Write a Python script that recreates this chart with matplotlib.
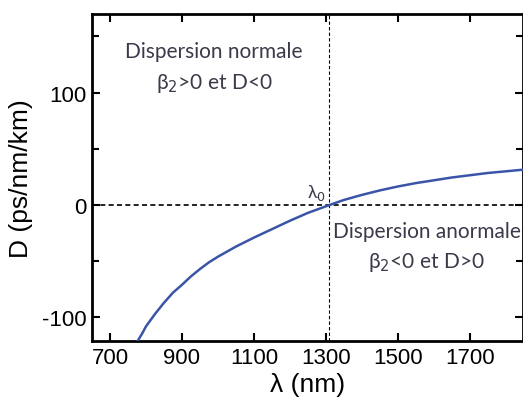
import matplotlib
matplotlib.use("Agg")
import matplotlib.pyplot as plt
from matplotlib.ticker import MultipleLocator

# data
wavelength = [775, 790, 800, 825, 850, 875, 900, 925, 950, 975, 1000, 1050, 1100, 1150, 1200,
              1250, 1310, 1350, 1400, 1450, 1500, 1550, 1600, 1650, 1700, 1750, 1800, 1850]
dispersion = [-122, -114, -108, -97, -87, -78, -71, -63.5, -57, -51, -46, -37, -29, -21.5, -14,
              -7, 0, 4.5, 9, 13, 16.5, 19.5, 22, 24.5, 26.5, 28.5, 30, 31.5]
lambda0 = 1310
xticks = [700, 900, 1100, 1300, 1500, 1700]
yticks = [-100, 0, 100]

plt.rcParams['font.family'] = ['Liberation Sans', 'DejaVu Sans']
plt.rcParams['axes.unicode_minus'] = False
fig = plt.figure(figsize=(5.23, 4.02), dpi=100)
ax = fig.add_axes([92/523, 60/402, 431/523, 327/402])

ax.plot(wavelength, dispersion, color='#3a55a8', lw=1.8, zorder=3)
ax.axhline(0, color='black', ls=(0, (3, 2)), lw=1.2)
ax.axvline(lambda0, color='black', ls=(0, (3, 2)), lw=0.8)

ax.set_xlim(650, 1848)
ax.set_ylim(-121, 170)
ax.set_xticks(xticks)
ax.set_yticks(yticks)
ax.yaxis.set_minor_locator(MultipleLocator(50))
ax.tick_params(which='both', direction='in', top=True, right=True, labelsize=16, width=1.5, length=6, pad=4)
ax.tick_params(which='minor', length=5)
for s in ax.spines.values():
    s.set_linewidth(2)

ax.set_xlabel('λ (nm)', fontsize=19, labelpad=3)
ax.set_ylabel('D (ps/nm/km)', fontsize=19, labelpad=6)

tc = '#3a3a4a'
tf = ['Lato', 'DejaVu Sans']
fs = 15
ax.text(989, 137, 'Dispersion normale', ha='center', va='center', fontsize=fs, color=tc, family=tf)
ax.text(989, 109, 'β$_2$>0 et D<0', ha='center', va='center', fontsize=fs, color=tc, family=tf)
ax.text(1580, -23, 'Dispersion anormale', ha='center', va='center', fontsize=fs, color=tc, family=tf)
ax.text(1578, -50, 'β$_2$<0 et D>0', ha='center', va='center', fontsize=fs, color=tc, family=tf)
ax.text(1300, 3, 'λ$_0$', ha='right', va='bottom', fontsize=13, color=tc, family=tf)

fig.savefig('out.png', dpi=100)
